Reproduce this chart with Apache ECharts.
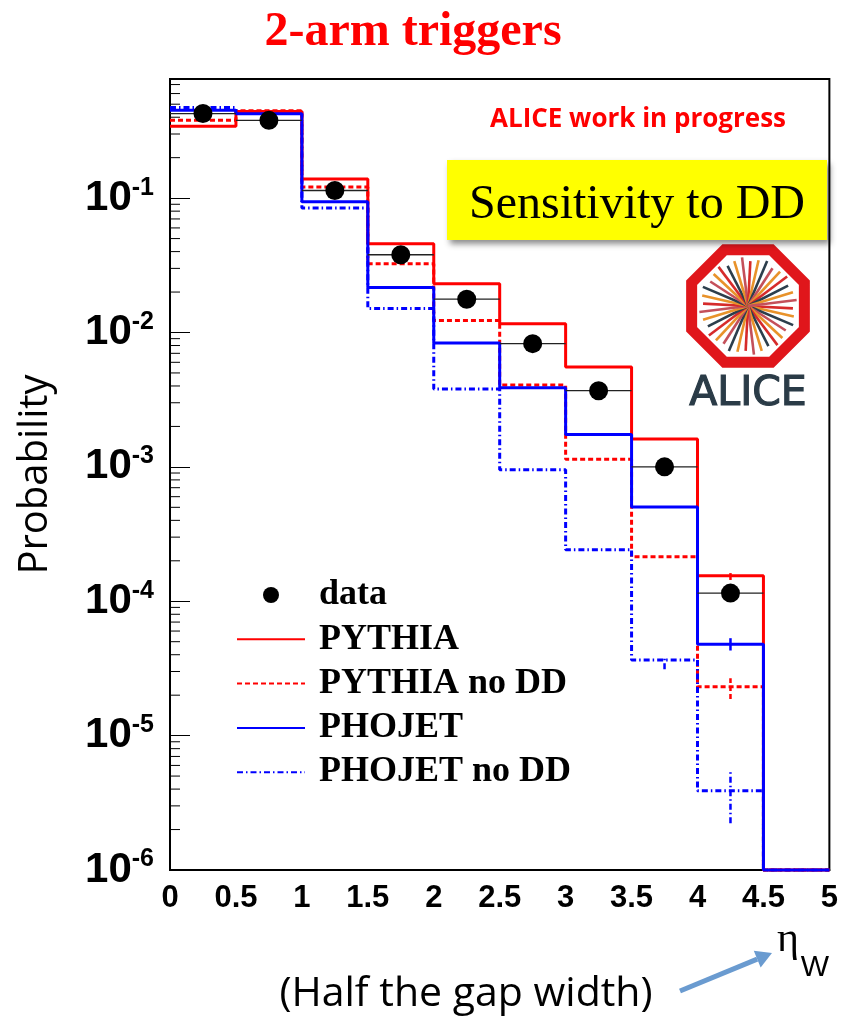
<!DOCTYPE html>
<html><head><meta charset="utf-8">
<script src="https://cdn.jsdelivr.net/npm/echarts@6/dist/echarts.min.js"></script>
<style>html,body{margin:0;padding:0;background:#fff}#c{width:841px;height:1018px}</style>
</head><body><div id="c"></div>
<script>
// ---------------- data ----------------
const binEdges = [0, 0.5, 1, 1.5, 2, 2.5, 3, 3.5, 4, 4.5, 5];
const xTickLabels = ['0', '0.5', '1', '1.5', '2', '2.5', '3', '3.5', '4', '4.5', '5'];
const yMajorTicks = [1e-6, 1e-5, 1e-4, 1e-3, 1e-2, 1e-1];
const yMinorMultipliers = [2, 3, 4, 5, 6, 7, 8, 9];

const dataValues = [0.426, 0.379, 0.114, 0.0379, 0.0177, 0.00826, 0.00369, 0.00100, 0.000115];
const dataErrors = [0.004, 0.004, 0.002, 0.0008, 0.0004, 0.0002, 0.0001, 0.00004, 0.000014];

const pythia     = [0.343, 0.441, 0.139, 0.0458, 0.0231, 0.01164, 0.00553, 0.00161, 0.000155, 1e-6];
const pythiaNoDD = [0.379, 0.446, 0.121, 0.0325, 0.0123, 0.00406, 0.00114, 0.000214, 0.0000231, 1e-6];
const phojet     = [0.451, 0.424, 0.0938, 0.0216, 0.00835, 0.00388, 0.00174, 0.000502, 0.0000479, 1e-6];
const phojetNoDD = [0.472, 0.440, 0.0845, 0.0151, 0.00379, 0.00095, 0.000242, 0.0000366, 0.00000389, 1e-6];

// statistical error bars of the simulations, [low, high] per bin (null: too small to see)
const pythiaErr     = [null, null, null, null, null, null, null, null, [0.000144, 0.000162], null];
const pythiaNoDDErr = [null, null, null, null, null, null, null, null, [0.0000187, 0.0000267], null];
const phojetErr     = [null, null, null, null, null, null, null, null, [0.0000430, 0.0000531], null];
const phojetNoDDErr = [null, null, null, null, null, null, null, [0.0000312, 0.0000379], [0.00000223, 0.00000556], null];

// ---------------- helpers ----------------
const binCenters = binEdges.slice(0, -1).map((e, i) => (e + binEdges[i + 1]) / 2);
function stepData(vals) {
  const pts = vals.map((v, i) => [binEdges[i], v]);
  pts.push([binEdges[binEdges.length - 1], vals[vals.length - 1]]);
  return pts;
}
function errData(errs) {
  const out = [];
  errs.forEach((e, i) => { if (e) out.push([binCenters[i], e[0], e[1]]); });
  return out;
}
const minorTicks = [];
yMajorTicks.forEach(d => yMinorMultipliers.forEach(m => { if (m * d < 0.77) minorTicks.push([0, m * d]); }));

const RED = '#ff0000', BLUE = '#0000ff';
const dashRed = [5, 3];
const dashBlue = [6, 3, 1.5, 3];

function errSeries(name, errs, color, dash) {
  return {
    name: name, type: 'custom', z: 5, clip: false,
    encode: { x: 0, y: [1, 2] },
    data: errData(errs),
    renderItem: function (params, api) {
      const p1 = api.coord([api.value(0), api.value(1)]);
      const p2 = api.coord([api.value(0), api.value(2)]);
      return { type: 'line', shape: { x1: p1[0], y1: p1[1], x2: p2[0], y2: p2[1] },
               style: { stroke: color, lineWidth: 2.5, lineDash: dash } };
    }
  };
}

// ---------------- chart ----------------
const chart = echarts.init(document.getElementById('c'), null, { renderer: 'canvas' });

// arrow geometry (decoration)
const aStart = [680, 991], aTip = [772, 953];
const ad = [aTip[0] - aStart[0], aTip[1] - aStart[1]];
const al = Math.hypot(ad[0], ad[1]);
const au = [ad[0] / al, ad[1] / al], an = [-au[1], au[0]];
const aBase = [aTip[0] - 16 * au[0], aTip[1] - 16 * au[1]];

// ALICE logo (decoration)
const logoC = [748, 306];
const octPts = [];
for (let k = 0; k < 8; k++) {
  const a = (22.5 + 45 * k) * Math.PI / 180;
  octPts.push([logoC[0] + 61 * Math.cos(a), logoC[1] + 61 * Math.sin(a)]);
}
const rayColors = ['#d62b2b', '#e8922a', '#2c3e4c', '#c4505a', '#e8922a', '#d62b2b', '#2c3e4c', '#e8922a', '#c4505a'];
const rays = [];
for (let k = 0; k < 36; k++) {
  const a = (k * 10 + 3) * Math.PI / 180;
  const len = 45 + (k % 3) * 2;
  rays.push({ type: 'line', shape: { x1: logoC[0], y1: logoC[1], x2: logoC[0] + len * Math.cos(a), y2: logoC[1] + len * Math.sin(a) },
              style: { stroke: rayColors[k % rayColors.length], lineWidth: 2.6 } });
}

const option = {
  animation: false,
  backgroundColor: '#fff',
  grid: { left: 170, right: 8, top: 79, bottom: 148, show: true, borderColor: '#000', borderWidth: 2, containLabel: false },
  xAxis: {
    type: 'value', min: 0, max: 5, interval: 0.5,
    axisLine: { show: true, lineStyle: { color: '#000', width: 2 } },
    axisTick: { show: false }, splitLine: { show: false },
    axisLabel: { color: '#000', fontFamily: 'Liberation Sans', fontWeight: 'bold', fontSize: 31, margin: 13,
                 showMinLabel: true, showMaxLabel: true,
                 formatter: function (v) { const i = binEdges.indexOf(v); return i >= 0 ? xTickLabels[i] : ''; } }
  },
  yAxis: {
    type: 'log', logBase: 10, min: 1e-6, max: 0.77, splitNumber: 6,
    axisLine: { show: true, lineStyle: { color: '#000', width: 2 } },
    axisTick: { show: true, inside: true, length: 20, lineStyle: { color: '#000', width: 1 } },
    splitLine: { show: false },
    name: 'Probability', nameLocation: 'middle', nameGap: 114,
    nameTextStyle: { fontFamily: 'Open Sans', fontSize: 40, color: '#000' },
    axisLabel: {
      margin: 16,
      formatter: function (v) {
        const lg = Math.log10(v), e = Math.round(lg);
        if (Math.abs(lg - e) > 1e-6) return '';
        return '{b|10}{s|' + e + '}';
      },
      rich: {
        b: { fontFamily: 'Liberation Sans', fontWeight: 'bold', fontSize: 42, lineHeight: 46, color: '#000' },
        s: { fontFamily: 'Liberation Sans', fontWeight: 'bold', fontSize: 25, lineHeight: 25, verticalAlign: 'top', color: '#000' }
      }
    }
  },
  legend: {
    orient: 'vertical', left: 236, top: 573, padding: 0,
    itemWidth: 68, itemHeight: 16, itemGap: 0.3,
    textStyle: { fontFamily: 'Liberation Serif', fontWeight: 'bold', fontSize: 36, color: '#000', lineHeight: 44, padding: [0, 0, 0, 9] },
    data: [
      { name: 'data', icon: 'circle', itemStyle: { color: '#000', opacity: 1 } },
      { name: 'PYTHIA', itemStyle: { opacity: 0 } },
      { name: 'PYTHIA no DD', itemStyle: { opacity: 0 } },
      { name: 'PHOJET', itemStyle: { opacity: 0 } },
      { name: 'PHOJET no DD', itemStyle: { opacity: 0 } }
    ]
  },
  series: [
    { name: 'PYTHIA', type: 'line', step: 'end', symbol: 'none', clip: false, z: 3,
      data: stepData(pythia), color: RED, lineStyle: { color: RED, width: 3 } },
    { name: 'PYTHIA no DD', type: 'line', step: 'end', symbol: 'none', clip: false, z: 2,
      data: stepData(pythiaNoDD), color: RED, lineStyle: { color: RED, width: 3, type: dashRed } },
    { name: 'PHOJET', type: 'line', step: 'end', symbol: 'none', clip: false, z: 4,
      data: stepData(phojet), color: BLUE, lineStyle: { color: BLUE, width: 3 } },
    { name: 'PHOJET no DD', type: 'line', step: 'end', symbol: 'none', clip: false, z: 2,
      data: stepData(phojetNoDD), color: BLUE, lineStyle: { color: BLUE, width: 3, type: dashBlue } },
    errSeries('PYTHIA err', pythiaErr, RED, null),
    errSeries('PYTHIA no DD err', pythiaNoDDErr, RED, dashRed),
    errSeries('PHOJET err', phojetErr, BLUE, null),
    errSeries('PHOJET no DD err', phojetNoDDErr, BLUE, dashBlue),
    { name: 'data err', type: 'custom', z: 6, clip: false,
      encode: { x: [0, 1], y: [2] },
      data: dataValues.map((v, i) => [binEdges[i], binEdges[i + 1], v, dataErrors[i]]),
      renderItem: function (params, api) {
        const v = api.value(2), e = api.value(3);
        const l = api.coord([api.value(0), v]), r = api.coord([api.value(1), v]);
        const c = api.coord([(api.value(0) + api.value(1)) / 2, v]);
        const lo = api.coord([0, v - e]), hi = api.coord([0, v + e]);
        return { type: 'group', children: [
          { type: 'line', shape: { x1: l[0], y1: l[1], x2: r[0], y2: r[1] }, style: { stroke: '#222', lineWidth: 1.3 } },
          { type: 'line', shape: { x1: c[0], y1: lo[1], x2: c[0], y2: hi[1] }, style: { stroke: '#222', lineWidth: 1.3 } }
        ] };
      }
    },
    { name: 'data', type: 'scatter', z: 10, symbol: 'circle', symbolSize: 19,
      data: dataValues.map((v, i) => [binCenters[i], v]), itemStyle: { color: '#000', opacity: 1 } },
    { name: 'minor ticks', type: 'custom', z: 7, silent: true,
      encode: { x: 0, y: 1 }, data: minorTicks,
      renderItem: function (params, api) {
        const p = api.coord([api.value(0), api.value(1)]);
        return { type: 'line', shape: { x1: p[0], y1: p[1], x2: p[0] + 10, y2: p[1] }, style: { stroke: '#000', lineWidth: 1 } };
      }
    }
  ],
  graphic: [
    { type: 'text', x: 413, y: 33, style: { text: '2-arm triggers', fill: RED, font: 'bold 48px "Liberation Serif"', textAlign: 'center', textVerticalAlign: 'middle' } },
    { type: 'text', x: 638, y: 120, style: { text: 'ALICE work in progress', fill: RED, font: 'bold 26px "Open Sans"', textAlign: 'center', textVerticalAlign: 'middle' } },
    { type: 'rect', shape: { x: 447, y: 160, width: 380, height: 80 }, z: 20,
      style: { fill: '#ffff00', shadowBlur: 6, shadowColor: 'rgba(0,0,0,0.45)', shadowOffsetX: 3, shadowOffsetY: 4 } },
    { type: 'text', x: 637, y: 205, z: 21, style: { text: 'Sensitivity to DD', fill: '#000', font: '48px "Liberation Serif"', textAlign: 'center', textVerticalAlign: 'middle' } },
    { type: 'group', z: 20, children: [
      { type: 'polygon', shape: { points: octPts }, style: { fill: '#fff', stroke: '#e0161b', lineWidth: 11 } }
    ].concat(rays).concat([
      { type: 'text', x: logoC[0], y: 394, style: { text: 'ALICE', fill: '#2a3b47', stroke: '#2a3b47', lineWidth: 1.2, font: '41px "DejaVu Sans"', textAlign: 'center', textVerticalAlign: 'middle' } }
    ]) },
    { type: 'text', x: 466, y: 994, style: { text: '(Half the gap width)', fill: '#000', font: '41px "Open Sans"', textAlign: 'center', textVerticalAlign: 'middle' } },
    { type: 'text', x: 788, y: 940, style: { text: 'η', fill: '#000', font: '42px "Liberation Serif"', textAlign: 'center', textVerticalAlign: 'middle' } },
    { type: 'text', x: 815, y: 968, style: { text: 'W', fill: '#000', font: '30px "Liberation Sans"', textAlign: 'center', textVerticalAlign: 'middle' } },
    { type: 'line', shape: { x1: aStart[0], y1: aStart[1], x2: aBase[0], y2: aBase[1] }, style: { stroke: '#6a9bd0', lineWidth: 5 } },
    { type: 'polygon', shape: { points: [aTip, [aBase[0] + 9 * an[0], aBase[1] + 9 * an[1]], [aBase[0] - 9 * an[0], aBase[1] - 9 * an[1]]] },
      style: { fill: '#6a9bd0' } }
  ]
};
chart.setOption(option);
</script>
</body></html>
